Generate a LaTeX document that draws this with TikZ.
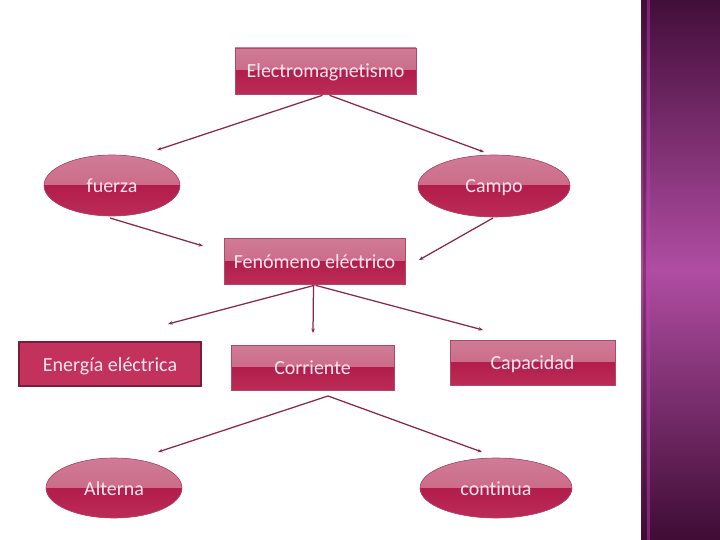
\documentclass[tikz,border=0pt]{standalone}
\usepackage{fontspec}
\setmainfont{Carlito}[Ligatures=NoCommon]
\usetikzlibrary{shapes.geometric,arrows.meta}
\definecolor{txtc}{HTML}{FBE6EF}
\definecolor{arr}{HTML}{8A2848}
\definecolor{gA}{HTML}{D07C96}
\definecolor{gB}{HTML}{C65C7E}
\definecolor{gC}{HTML}{B21D4B}
\definecolor{gD}{HTML}{BC2C57}
\definecolor{flatc}{HTML}{C2325C}
\definecolor{flatb}{HTML}{7A1C3C}
\definecolor{edgec}{HTML}{B0486C}
\definecolor{pA}{HTML}{430E3A}
\definecolor{pB}{HTML}{B04DA2}
\definecolor{pC}{HTML}{3E0C34}
\pgfdeclareverticalshading{panel}{100bp}{color(0bp)=(pC); color(25bp)=(pC); color(50bp)=(pB); color(75bp)=(pA); color(100bp)=(pA)}
\tikzset{
  txt/.style={inner sep=0pt, text=txtc, font=\fontsize{20}{24}\selectfont, text height=16pt, text depth=2pt},
  gloss/.style={fill=gC, draw=edgec, line width=0.6pt, txt,
    path picture={
      \shade[top color=gA, bottom color=gB] (path picture bounding box.north west) rectangle (path picture bounding box.east);
      \shade[top color=gC, bottom color=gD] (path picture bounding box.west) rectangle (path picture bounding box.south east);
    }},
  glossbox/.style={rectangle, gloss},
  glossell/.style={ellipse, gloss},
  flatbox/.style={rectangle, fill=flatc, draw=flatb, line width=1.6pt, txt},
  conn/.style={draw=arr, line width=1.25pt, -{Stealth[length=4.5pt,width=3.5pt]}}
}
\begin{document}
\begin{tikzpicture}[x=1pt,y=-1pt]
\useasboundingbox (0,0) rectangle (720,540);
\fill[white] (0,0) rectangle (720,540);
% right panel
\shade[shading=panel] (641,0) rectangle (720,540);
\fill[pC, opacity=0.35] (643,0) rectangle (646,540);
\fill[pB!80!magenta, opacity=0.45] (647,0) rectangle (650,540);

\node[glossbox, minimum width=181pt, minimum height=46pt] (em) at (325.5,71) {Electromagnetismo};
\node[glossell, minimum width=136pt, minimum height=61pt] (fu) at (112,185.5) {fuerza};
\node[glossell, minimum width=152pt, minimum height=62pt] (ca) at (494,186) {Campo};
\node[glossbox, minimum width=181pt, minimum height=46pt] (fe) at (314.5,261) {Fenómeno eléctrico};
\node[flatbox, minimum width=182pt, minimum height=44pt] (en) at (110,364) {Energía eléctrica};
\node[glossbox, minimum width=163pt, minimum height=45pt] (co) at (312.5,367.5) {Corriente};
\node[glossbox, minimum width=165pt, minimum height=45pt] (cp) at (532.5,362.5) {Capacidad};
\node[glossell, minimum width=136pt, minimum height=60pt] (al) at (114,488) {Alterna};
\node[glossell, minimum width=152pt, minimum height=60pt] (cn) at (496,488) {continua};

\coordinate (t1) at (157,150);
\coordinate (t2) at (484,152);
\coordinate (s3) at (110,218);
\coordinate (t3) at (203,246);
\coordinate (s4) at (493,218);
\coordinate (t4) at (419,260);
\coordinate (t5) at (168,324);
\coordinate (t6) at (313,333);
\coordinate (t7) at (483,330);
\coordinate (s8) at (328,396);
\coordinate (t8) at (158,452);
\coordinate (t9) at (482,452);

\draw[conn] ([xshift=-3pt,yshift=-1pt]em.south) -- (t1);
\draw[conn] ([xshift=4pt,yshift=-1pt]em.south) -- (t2);
\draw[conn] (s3) -- (t3);
\draw[conn] (s4) -- (t4);
\draw[conn] ([yshift=-1pt]fe.south) -- (t5);
\draw[conn] ([xshift=-1pt,yshift=-1pt]fe.south) -- (t6);
\draw[conn] ([xshift=1pt,yshift=-1pt]fe.south) -- (t7);
\draw[conn] (s8) -- (t8);
\draw[conn] (s8) -- (t9);
\end{tikzpicture}
\end{document}
